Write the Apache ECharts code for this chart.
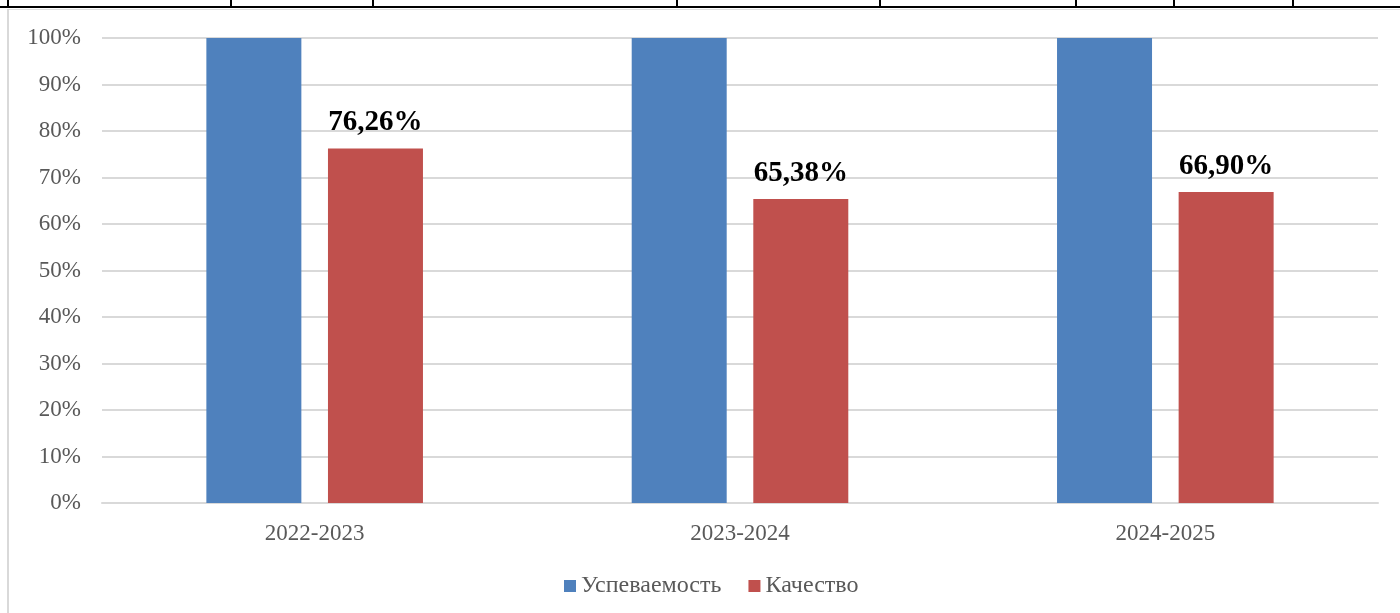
<!DOCTYPE html>
<html>
<head>
<meta charset="utf-8">
<script src="https://cdn.jsdelivr.net/npm/echarts@6/dist/echarts.min.js"></script>
<style>
  html, body { margin: 0; padding: 0; background: #fff; }
  #chart { width: 1400px; height: 613px; }
</style>
</head>
<body>
<div id="chart"></div>
<script>
// School years on the x axis
const years = ['2022-2023', '2023-2024', '2024-2025'];
// Performance (Успеваемость) and quality (Качество), in percent
const uspevaemost = [100, 100, 100];
const kachestvo = [76.26, 65.38, 66.90];
const seriesNames = ['Успеваемость', 'Качество'];

const FONT = '"Liberation Serif", "Times New Roman", serif';
const GREY = '#595959';

const chart = echarts.init(document.getElementById('chart'));

const option = {
    animation: false,
    backgroundColor: '#ffffff',
    textStyle: { fontFamily: FONT },
    grid: {
        left: 102,
        right: 22,
        top: 38,
        bottom: 110,
        containLabel: false
    },
    legend: {
        data: seriesNames,
        left: 559,
        top: 569,
        itemWidth: 12,
        itemHeight: 12,
        itemGap: 27,
        icon: 'rect',
        textStyle: {
            fontFamily: FONT,
            fontSize: 24,
            color: GREY
        }
    },
    xAxis: {
        type: 'category',
        data: years,
        axisTick: { show: false },
        axisLine: {
            show: true,
            lineStyle: { color: '#d9d9d9', width: 2 }
        },
        axisLabel: {
            fontFamily: FONT,
            fontSize: 23,
            color: GREY,
            margin: 19
        }
    },
    yAxis: {
        type: 'value',
        min: 0,
        max: 100,
        interval: 10,
        axisLine: { show: false },
        axisTick: { show: false },
        axisLabel: {
            fontFamily: FONT,
            fontSize: 23,
            color: GREY,
            margin: 21,
            formatter: '{value}%'
        },
        splitLine: {
            show: true,
            lineStyle: { color: '#d9d9d9', width: 2 }
        }
    },
    series: [
        {
            name: seriesNames[0],
            type: 'bar',
            data: uspevaemost,
            barWidth: 95,
            barGap: '28%',
            itemStyle: { color: '#4F81BD' }
        },
        {
            name: seriesNames[1],
            type: 'bar',
            data: kachestvo,
            barWidth: 95,
            itemStyle: { color: '#C0504D' },
            label: {
                show: true,
                position: 'top',
                distance: 11,
                fontFamily: FONT,
                fontSize: 29,
                fontWeight: 'bold',
                color: '#000',
                formatter: p => p.value.toFixed(2).replace('.', ',') + '%'
            }
        }
    ],
    // page furniture around the chart: table border above and the chart frame
    graphic: [
        { type: 'rect', shape: { x: 0, y: 6, width: 1400, height: 2 }, style: { fill: '#000' }, silent: true },
        ...[8, 231, 373, 677, 880, 1076, 1174, 1293].map(x => ({
            type: 'rect', shape: { x: x - 1, y: 0, width: 2, height: 8 }, style: { fill: '#000' }, silent: true
        })),
        { type: 'rect', shape: { x: 7, y: 9, width: 1393, height: 1 }, style: { fill: '#e0e0e0' }, silent: true },
        { type: 'rect', shape: { x: 7, y: 9, width: 2, height: 604 }, style: { fill: '#d9d9d9' }, silent: true }
    ]
};

chart.setOption(option);
</script>
</body>
</html>
